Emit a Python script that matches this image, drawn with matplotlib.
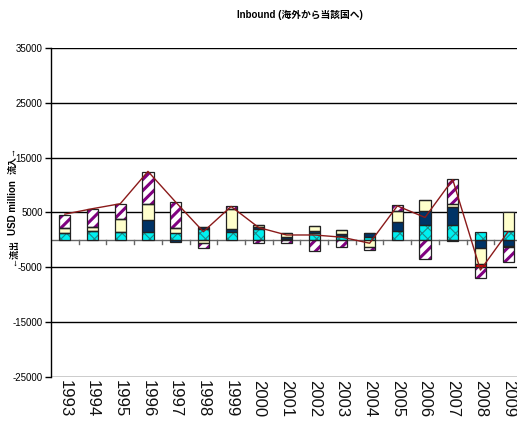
import matplotlib
matplotlib.use("Agg")
import matplotlib.pyplot as plt
import numpy as np

years = [str(y) for y in range(1993, 2010)]

# Inbound components (USD million), stacked in this order
cyan_vals = [1200, 1600, 1400, 1400, 1200, 2000, 1500, 2000, 200, 1300, 800, 500, 1700, 2700, 2700, 1450, 1700]
navy_vals = [0, 0, 0, 2150, -400, 400, 550, 300, 300, 300, 300, 700, 1500, 2600, 3350, -1500, -1100]
cream_vals = [900, 700, 2500, 2950, 900, -500, 3650, 500, 800, 1000, 700, -1300, 2050, 2050, 450, -2900, 3300]
red_vals = [0, 0, 0, 0, 0, 0, 0, 0, 0, 0, 0, 0, 0, 0, -200, -450, -250]
purple_vals = [2500, 3400, 2700, 5900, 4850, -900, 500, -600, -500, -2100, -1300, -500, 1200, -3500, 4600, -2100, -2600]
total_vals = [4700, 5700, 6600, 12500, 6900, 1500, 6100, 2250, 900, 900, 500, -600, 6200, 4100, 11000, -5500, 1500]

yticks = [35000, 25000, 15000, 5000, -5000, -15000, -25000]

plt.rcParams['font.family'] = ['Liberation Sans', 'Noto Sans CJK JP', 'DejaVu Sans']

fig = plt.figure(figsize=(5.17, 4.23), dpi=100)
ax = fig.add_axes([51 / 517, 46 / 423, 471 / 517, 329 / 423])

x = np.arange(len(years))
width = 0.4

series = [
    (cyan_vals, '#00F0F0', 'xxx', '#1A8A8A', 0.8),
    (navy_vals, '#003366', None, '#003366', 0.8),
    (cream_vals, '#FFFFCC', None, '#FFFFCC', 0.8),
    (red_vals, '#FF0000', None, '#FF0000', 0.8),
    (purple_vals, '#FFFFFF', '///', '#800080', 2.2),
]

pos_base = np.zeros(len(years))
neg_base = np.zeros(len(years))
for vals, face, hatch, hcol, hlw in series:
    v = np.array(vals, dtype=float)
    bottom = np.where(v >= 0, pos_base, neg_base)
    with plt.rc_context({'hatch.linewidth': hlw, 'hatch.color': hcol}):
        bars = ax.bar(x, v, width, bottom=bottom, color=face, hatch=hatch,
                      edgecolor=hcol, linewidth=0, zorder=3)
        for b in bars:
            if hasattr(b, 'set_hatch_linewidth'):
                b.set_hatch_linewidth(hlw)
    ax.bar(x, v, width, bottom=bottom, fill=False, edgecolor='#222222',
           linewidth=0.9, zorder=4)
    pos_base = pos_base + np.where(v > 0, v, 0)
    neg_base = neg_base + np.where(v < 0, v, 0)

ax.plot(x, total_vals, color='#8B1A1A', linewidth=1.0, zorder=5)

ax.set_xlim(-0.5, len(years) - 0.5)
ax.set_ylim(-25000, 35000)
ax.set_yticks(yticks)
ax.set_yticklabels([str(t) for t in yticks], fontsize=7)
for t in yticks:
    ax.axhline(t, color='black', linewidth=1.0, zorder=1)

# category axis drawn at zero with ticks between categories
ax.axhline(0, color='#666666', linewidth=1.0, zorder=2)
for b in np.arange(0.5, len(years) - 0.5, 1.0):
    ax.plot([b, b], [0, -700], color='#666666', linewidth=1.0, zorder=2,
            clip_on=False)

ax.set_xticks([])
for i, yr in enumerate(years):
    ax.text(i, -25600, yr, rotation=270, ha='center', va='top', fontsize=12,
            color='#111111')

for side in ['top', 'right', 'bottom']:
    ax.spines[side].set_visible(False)
ax.spines['left'].set_linewidth(1.0)
ax.tick_params(axis='y', direction='out', length=4, width=1, pad=2)

fig.text(13 / 517, 1 - 208 / 423, 'USD million', rotation=90, ha='center',
         va='center', fontsize=7, fontweight='bold')
fig.text(13 / 517, 1 - 161 / 423, '流入→', rotation=90, ha='center',
         va='center', fontsize=6.5, fontweight='bold')
fig.text(13 / 517, 1 - 252 / 423, '←流出', rotation=90, ha='center',
         va='center', fontsize=6.5, fontweight='bold')

fig.text(300 / 517, 1 - 15 / 423, 'Inbound (海外から当該国へ)', ha='center',
         va='center', fontsize=7, fontweight='bold')

fig.savefig('out.png', dpi=100)
